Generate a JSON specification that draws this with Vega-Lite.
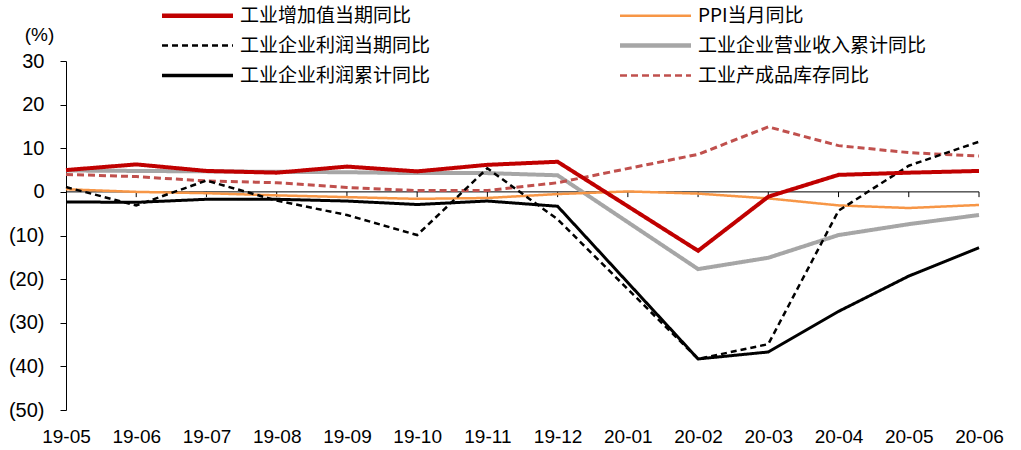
{
  "$schema": "https://vega.github.io/schema/vega-lite/v6.json",
  "width": 913,
  "height": 349,
  "autosize": {"type": "none"},
  "padding": {"left": 66, "top": 61, "right": 42, "bottom": 40},
  "background": "white",
  "config": {"view": {"stroke": null}, "font": "Liberation Sans"},
  "datasets": {
    "series": [
      {"month": "19-05", "series": "工业企业营业收入累计同比", "value": 4.9},
      {"month": "19-06", "series": "工业企业营业收入累计同比", "value": 4.8},
      {"month": "19-07", "series": "工业企业营业收入累计同比", "value": 4.7},
      {"month": "19-08", "series": "工业企业营业收入累计同比", "value": 4.6},
      {"month": "19-09", "series": "工业企业营业收入累计同比", "value": 4.5},
      {"month": "19-10", "series": "工业企业营业收入累计同比", "value": 4.3},
      {"month": "19-11", "series": "工业企业营业收入累计同比", "value": 4.3},
      {"month": "19-12", "series": "工业企业营业收入累计同比", "value": 3.8},
      {"month": "20-02", "series": "工业企业营业收入累计同比", "value": -17.7},
      {"month": "20-03", "series": "工业企业营业收入累计同比", "value": -15.1},
      {"month": "20-04", "series": "工业企业营业收入累计同比", "value": -9.9},
      {"month": "20-05", "series": "工业企业营业收入累计同比", "value": -7.4},
      {"month": "20-06", "series": "工业企业营业收入累计同比", "value": -5.3},

      {"month": "19-05", "series": "PPI当月同比", "value": 0.6},
      {"month": "19-06", "series": "PPI当月同比", "value": 0.0},
      {"month": "19-07", "series": "PPI当月同比", "value": -0.3},
      {"month": "19-08", "series": "PPI当月同比", "value": -0.8},
      {"month": "19-09", "series": "PPI当月同比", "value": -1.2},
      {"month": "19-10", "series": "PPI当月同比", "value": -1.6},
      {"month": "19-11", "series": "PPI当月同比", "value": -1.4},
      {"month": "19-12", "series": "PPI当月同比", "value": -0.5},
      {"month": "20-01", "series": "PPI当月同比", "value": 0.1},
      {"month": "20-02", "series": "PPI当月同比", "value": -0.4},
      {"month": "20-03", "series": "PPI当月同比", "value": -1.5},
      {"month": "20-04", "series": "PPI当月同比", "value": -3.1},
      {"month": "20-05", "series": "PPI当月同比", "value": -3.7},
      {"month": "20-06", "series": "PPI当月同比", "value": -3.0},

      {"month": "19-05", "series": "工业产成品库存同比", "value": 4.0},
      {"month": "19-06", "series": "工业产成品库存同比", "value": 3.5},
      {"month": "19-07", "series": "工业产成品库存同比", "value": 2.5},
      {"month": "19-08", "series": "工业产成品库存同比", "value": 2.1},
      {"month": "19-09", "series": "工业产成品库存同比", "value": 1.0},
      {"month": "19-10", "series": "工业产成品库存同比", "value": 0.3},
      {"month": "19-11", "series": "工业产成品库存同比", "value": 0.3},
      {"month": "19-12", "series": "工业产成品库存同比", "value": 2.1},
      {"month": "20-02", "series": "工业产成品库存同比", "value": 8.6},
      {"month": "20-03", "series": "工业产成品库存同比", "value": 14.9},
      {"month": "20-04", "series": "工业产成品库存同比", "value": 10.6},
      {"month": "20-05", "series": "工业产成品库存同比", "value": 9.0},
      {"month": "20-06", "series": "工业产成品库存同比", "value": 8.2},

      {"month": "19-05", "series": "工业企业利润当期同比", "value": 1.1},
      {"month": "19-06", "series": "工业企业利润当期同比", "value": -3.1},
      {"month": "19-07", "series": "工业企业利润当期同比", "value": 2.6},
      {"month": "19-08", "series": "工业企业利润当期同比", "value": -2.0},
      {"month": "19-09", "series": "工业企业利润当期同比", "value": -5.3},
      {"month": "19-10", "series": "工业企业利润当期同比", "value": -9.9},
      {"month": "19-11", "series": "工业企业利润当期同比", "value": 5.4},
      {"month": "19-12", "series": "工业企业利润当期同比", "value": -6.3},
      {"month": "20-02", "series": "工业企业利润当期同比", "value": -38.3},
      {"month": "20-03", "series": "工业企业利润当期同比", "value": -34.9},
      {"month": "20-04", "series": "工业企业利润当期同比", "value": -4.3},
      {"month": "20-05", "series": "工业企业利润当期同比", "value": 6.0},
      {"month": "20-06", "series": "工业企业利润当期同比", "value": 11.5},

      {"month": "19-05", "series": "工业企业利润累计同比", "value": -2.3},
      {"month": "19-06", "series": "工业企业利润累计同比", "value": -2.4},
      {"month": "19-07", "series": "工业企业利润累计同比", "value": -1.7},
      {"month": "19-08", "series": "工业企业利润累计同比", "value": -1.7},
      {"month": "19-09", "series": "工业企业利润累计同比", "value": -2.1},
      {"month": "19-10", "series": "工业企业利润累计同比", "value": -2.9},
      {"month": "19-11", "series": "工业企业利润累计同比", "value": -2.1},
      {"month": "19-12", "series": "工业企业利润累计同比", "value": -3.3},
      {"month": "20-02", "series": "工业企业利润累计同比", "value": -38.3},
      {"month": "20-03", "series": "工业企业利润累计同比", "value": -36.7},
      {"month": "20-04", "series": "工业企业利润累计同比", "value": -27.4},
      {"month": "20-05", "series": "工业企业利润累计同比", "value": -19.3},
      {"month": "20-06", "series": "工业企业利润累计同比", "value": -12.8},

      {"month": "19-05", "series": "工业增加值当期同比", "value": 5.0},
      {"month": "19-06", "series": "工业增加值当期同比", "value": 6.3},
      {"month": "19-07", "series": "工业增加值当期同比", "value": 4.8},
      {"month": "19-08", "series": "工业增加值当期同比", "value": 4.4},
      {"month": "19-09", "series": "工业增加值当期同比", "value": 5.8},
      {"month": "19-10", "series": "工业增加值当期同比", "value": 4.7},
      {"month": "19-11", "series": "工业增加值当期同比", "value": 6.2},
      {"month": "19-12", "series": "工业增加值当期同比", "value": 6.9},
      {"month": "20-02", "series": "工业增加值当期同比", "value": -13.5},
      {"month": "20-03", "series": "工业增加值当期同比", "value": -1.1},
      {"month": "20-04", "series": "工业增加值当期同比", "value": 3.9},
      {"month": "20-05", "series": "工业增加值当期同比", "value": 4.4},
      {"month": "20-06", "series": "工业增加值当期同比", "value": 4.8}
    ],
    "months": [
      {"month": "19-06"}, {"month": "19-07"}, {"month": "19-08"}, {"month": "19-09"},
      {"month": "19-10"}, {"month": "19-11"}, {"month": "19-12"}, {"month": "20-01"},
      {"month": "20-02"}, {"month": "20-03"}, {"month": "20-04"}, {"month": "20-05"},
      {"month": "20-06"}
    ]
  },
  "encoding": {
    "x": {
      "field": "month",
      "type": "ordinal",
      "scale": {
        "type": "point",
        "padding": 0,
        "domain": ["19-05","19-06","19-07","19-08","19-09","19-10","19-11","19-12","20-01","20-02","20-03","20-04","20-05","20-06"]
      },
      "axis": {
        "title": null,
        "domain": false,
        "ticks": false,
        "labelAngle": 0,
        "labelPadding": 17,
        "labelFontSize": 19,
        "labelColor": "#000000",
        "labelFont": "Liberation Sans"
      }
    }
  },
  "layer": [
    {
      "data": {"values": [{"z": 0}]},
      "mark": {"type": "rule", "color": "#000000", "strokeWidth": 1},
      "encoding": {"x": null, "y": {"field": "z", "type": "quantitative"}}
    },
    {
      "data": {"name": "months"},
      "mark": {"type": "rule", "color": "#000000", "strokeWidth": 1},
      "encoding": {
        "y": {"datum": 0, "type": "quantitative"},
        "y2": {"datum": -1.2}
      }
    },
    {
      "data": {"name": "series"},
      "mark": {"type": "line", "strokeCap": "butt", "strokeJoin": "miter"},
      "encoding": {
        "y": {
          "field": "value",
          "type": "quantitative",
          "scale": {"domain": [-50, 30], "nice": false, "zero": false},
          "axis": {
            "values": [-50, -40, -30, -20, -10, 0, 10, 20, 30],
            "grid": false,
            "domain": true,
            "domainColor": "#000000",
            "ticks": true,
            "tickSize": 6,
            "tickColor": "#000000",
            "labelPadding": 16,
            "labelFontSize": 20,
            "labelColor": "#000000",
            "labelFont": "Liberation Sans",
            "labelExpr": "datum.value < 0 ? '(' + abs(datum.value) + ')' : '' + datum.value",
            "title": "(%)",
            "titleAngle": 0,
            "titleX": -27,
            "titleY": -27,
            "titleAlign": "center",
            "titleBaseline": "middle",
            "titleFontWeight": "normal",
            "titleFontSize": 19,
            "titleFont": "Liberation Sans",
            "titleColor": "#000000"
          }
        },
        "detail": {"field": "series"},
        "color": {
          "field": "series",
          "type": "nominal",
          "scale": {
            "domain": ["工业增加值当期同比","工业企业利润当期同比","工业企业利润累计同比","PPI当月同比","工业企业营业收入累计同比","工业产成品库存同比"],
            "range": ["#C00000","#000000","#000000","#F79646","#A6A6A6","#C0504D"]
          },
          "legend": {
            "orient": "none",
            "legendX": 122,
            "legendY": -55,
            "title": null,
            "columns": 2,
            "columnPadding": 180,
            "rowPadding": 10,
            "symbolType": "M-6,0H6",
            "symbolSize": 140,
            "symbolFillColor": "transparent",
            "labelOffset": 33,
            "labelLimit": 400,
            "labelFontSize": 19,
            "labelFont": "Noto Sans CJK SC",
            "labelColor": "#000000",
            "encode": {
              "symbols": {
                "update": {
                  "strokeWidth": {"signal": "datum.value === '工业增加值当期同比' || datum.value === '工业企业营业收入累计同比' ? 4.5 : datum.value === '工业企业利润累计同比' ? 3.5 : 2.5"}
                }
              }
            }
          }
        },
        "strokeDash": {
          "field": "series",
          "type": "nominal",
          "scale": {
            "domain": ["工业增加值当期同比","工业企业利润当期同比","工业企业利润累计同比","PPI当月同比","工业企业营业收入累计同比","工业产成品库存同比"],
            "range": [[1,0],[6,4],[1,0],[1,0],[1,0],[7,4]]
          }
        },
        "strokeWidth": {
          "condition": [
            {"test": "datum.series === '工业增加值当期同比' || datum.series === '工业企业营业收入累计同比'", "value": 4},
            {"test": "datum.series === '工业企业利润累计同比' || datum.series === '工业产成品库存同比'", "value": 3}
          ],
          "value": 2.5
        }
      }
    }
  ]
}
